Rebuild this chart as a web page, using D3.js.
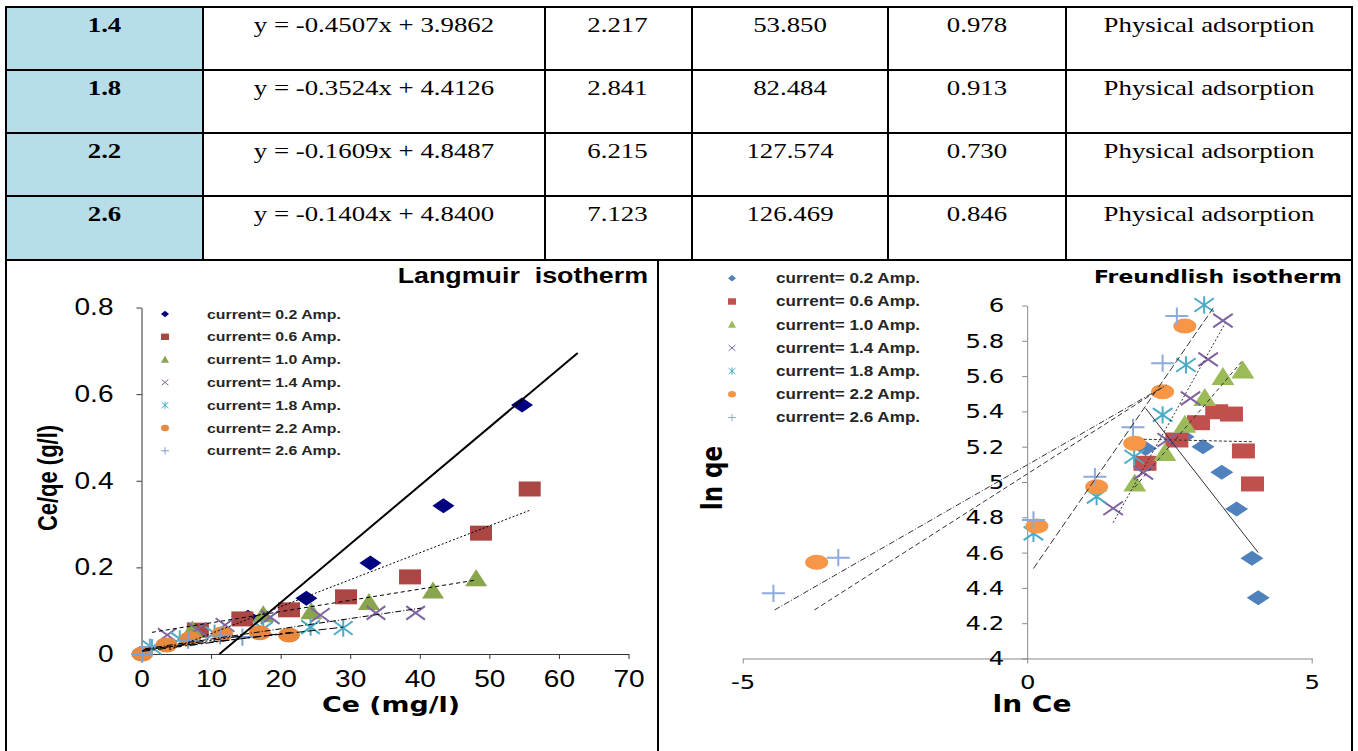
<!DOCTYPE html>
<html>
<head>
<meta charset="utf-8">
<script src="https://cdn.jsdelivr.net/npm/d3@7"></script>
<style>
  body { margin: 0; background: #fff; }
  svg { display: block; }
</style>
</head>
<body>
<svg id="fig" width="1358" height="751"></svg>
<script>
// ---------- Table: Freundlich fit results ----------
const tableCurrents  = ["1.4", "1.8", "2.2", "2.6"];
const tableEquations = ["y = -0.4507x + 3.9862", "y = -0.3524x + 4.4126", "y = -0.1609x + 4.8487", "y = -0.1404x + 4.8400"];
const tableN   = ["2.217", "2.841", "6.215", "7.123"];
const tableKf  = ["53.850", "82.484", "127.574", "126.469"];
const tableR2  = ["0.978", "0.913", "0.730", "0.846"];
const tableType = ["Physical adsorption", "Physical adsorption", "Physical adsorption", "Physical adsorption"];

// ---------- Legend ----------
const currents = ["0.2", "0.6", "1.0", "1.4", "1.8", "2.2", "2.6"];

// ---------- Langmuir isotherm: [Ce (mg/l), Ce/qe (g/l)] ----------
const lang02 = [[15.3, 0.085], [23.7, 0.129], [32.9, 0.21], [43.4, 0.342], [54.7, 0.575]];
const lang06 = [[8.1, 0.055], [14.5, 0.081], [21.2, 0.102], [29.4, 0.132], [38.6, 0.178], [48.8, 0.279], [55.8, 0.381]];
const lang10 = [[7.3, 0.055], [17.5, 0.09], [24.4, 0.097], [32.7, 0.118], [41.9, 0.145], [48.1, 0.173]];
const lang14 = [[3.7, 0.044], [8.0, 0.057], [12.0, 0.067], [18.5, 0.085], [25.7, 0.09], [33.7, 0.095], [39.4, 0.095]];
const lang18 = [[1.5, 0.015], [5.5, 0.035], [10.5, 0.048], [17.5, 0.058], [24.3, 0.062], [29.0, 0.06]];
const lang22 = [[0.1, 0.0], [3.6, 0.021], [7.0, 0.035], [11.6, 0.046], [17.0, 0.049], [21.2, 0.044]];
const lang26 = [[0.1, 0.0], [1.2, 0.016], [6.7, 0.032], [11.3, 0.042], [14.5, 0.039]];

// Linear trendline end points
const langTrend02 = [[11.2, 0.0], [62.7, 0.695]];
const langTrend06 = [[4.0, 0.01], [56.0, 0.333]];
const langTrend10 = [[1.5, 0.05], [47.8, 0.17]];
const langTrend14 = [[0.5, 0.012], [40.2, 0.106]];
const langTrend18 = [[0.3, 0.01], [29.0, 0.062]];
const langTrend22 = [[0.1, 0.006], [21.5, 0.05]];
const langTrend26 = [[0.1, 0.008], [14.5, 0.042]];

const langXTicks = [0, 10, 20, 30, 40, 50, 60, 70];
const langYTicks = [0, 0.2, 0.4, 0.6, 0.8];

// ---------- Freundlich isotherm: [ln Ce, ln qe] ----------
const fr02 = [[2.08, 5.19], [2.74, 5.257], [3.09, 5.2], [3.42, 5.055], [3.68, 4.847], [3.95, 4.568], [4.06, 4.344]];
const fr06 = [[2.07, 5.106], [2.63, 5.238], [3.01, 5.336], [3.33, 5.398], [3.59, 5.385], [3.8, 5.176], [3.96, 4.989]];
const fr10 = [[1.89, 4.99], [2.42, 5.163], [2.77, 5.323], [3.12, 5.474], [3.44, 5.593], [3.79, 5.63]];
const fr14 = [[1.51, 4.851], [2.04, 5.053], [2.46, 5.238], [2.87, 5.474], [3.18, 5.695], [3.44, 5.914]];
const fr18 = [[0.11, 4.709], [1.22, 4.917], [1.88, 5.143], [2.38, 5.38], [2.79, 5.663], [3.11, 6.003]];
const fr22 = [[-3.70, 4.545], [0.17, 4.751], [1.22, 4.973], [1.89, 5.219], [2.38, 5.512], [2.77, 5.884]];
const fr26 = [[-4.46, 4.369], [-3.32, 4.571], [0.11, 4.785], [1.19, 5.03], [1.86, 5.31], [2.38, 5.673], [2.63, 5.94]];

const frTrend02 = [[2.08, 5.418], [4.06, 4.60]];
const frTrend06 = [[2.05, 5.242], [3.97, 5.228]];
const frTrend10 = [[1.89, 4.97], [3.79, 5.69]];
const frTrend14 = [[1.51, 4.77], [3.48, 5.90]];
const frTrend18 = [[0.11, 4.51], [3.27, 5.986]];
const frTrend22 = [[-3.74, 4.275], [2.40, 5.54]];
const frTrend26 = [[-4.44, 4.275], [2.45, 5.55]];

const frXTicks = [-5, 0, 5];
const frYTicks = [4, 4.2, 4.4, 4.6, 4.8, 5, 5.2, 5.4, 5.6, 5.8, 6];

// ---------- drawing helpers ----------
const SX = 1.22;                    // horizontal stretch of the printed figure
const svg = d3.select("#fig");
const SANS = "'Liberation Sans', Arial, sans-serif";
const DEJA = "'DejaVu Sans', Verdana, sans-serif";
const SERIF = "'Liberation Serif', 'Times New Roman', serif";

function label(parent, x, y, str, o = {}) {
  return parent.append("text")
    .attr("x", x / SX).attr("y", y)
    .attr("transform", `scale(${SX},1)`)
    .attr("text-anchor", o.anchor || "start")
    .attr("font-family", o.family || SANS)
    .attr("font-size", o.size || 14)
    .attr("font-weight", o.weight || "normal")
    .attr("fill", o.fill || "#000")
    .style("white-space", "pre")
    .text(str);
}

function vlabel(parent, x, y, str, o = {}) {
  parent.append("g")
    .attr("transform", `translate(${x},${y}) scale(${SX},1) rotate(-90)`)
    .append("text")
    .attr("text-anchor", "middle")
    .attr("dy", "0.35em")
    .attr("font-family", o.family || SANS)
    .attr("font-size", o.size || 14)
    .attr("font-weight", o.weight || "normal")
    .attr("fill", "#000")
    .text(str);
}

// Unit marker shapes (half-size 1), scaled per use
const SHAPES = {
  diamond:  { d: "M0,-1L1,0L0,1L-1,0Z", fill: true },
  square:   { d: "M-1,-1H1V1H-1Z", fill: true },
  triangle: { d: "M0,-1.15L1,0.85L-1,0.85Z", fill: true },
  cross:    { d: "M-0.85,-0.9L0.85,0.9M-0.85,0.9L0.85,-0.9", fill: false },
  star:     { d: "M-0.85,-0.9L0.85,0.9M-0.85,0.9L0.85,-0.9M0,-1.15V1.15", fill: false },
  circle:   { d: "M-1,0A1,1 0 1,0 1,0A1,1 0 1,0 -1,0Z", fill: true },
  plus:     { d: "M-1,0H1M0,-1.15V1.15", fill: false }
};

function marker(parent, cx, cy, shape, color, hw, hh, sw) {
  const s = SHAPES[shape];
  parent.append("path")
    .attr("d", s.d)
    .attr("transform", `translate(${cx},${cy}) scale(${hw},${hh})`)
    .attr("vector-effect", "non-scaling-stroke")
    .attr("fill", s.fill ? color : "none")
    .attr("stroke", s.fill ? "none" : color)
    .attr("stroke-width", s.fill ? 0 : sw);
}

function styleAxis(g, color, family, size) {
  g.select(".domain").attr("stroke", color).attr("stroke-width", 1);
  g.selectAll(".tick line").attr("stroke", color).attr("stroke-width", 1);
  g.selectAll(".tick text")
    .attr("fill", "#000").attr("font-family", family).attr("font-size", size)
    .each(function () {
      const t = d3.select(this);
      const x = +t.attr("x") || 0;
      t.attr("x", x / SX).attr("transform", `scale(${SX},1)`);
    });
}

// ---------- Table ----------
const colEdges = [6, 203, 545, 692, 888, 1066, 1352];
const rowEdges = [7, 70, 133, 196, 260];
const tableCols = [tableCurrents, tableEquations, tableN, tableKf, tableR2, tableType];

const tbl = svg.append("g");
tableCurrents.forEach((_, r) => {
  tbl.append("rect")
    .attr("x", colEdges[0]).attr("y", rowEdges[r])
    .attr("width", colEdges[1] - colEdges[0]).attr("height", rowEdges[r + 1] - rowEdges[r])
    .attr("fill", "#b7dde8");
});
tableCols.forEach((col, c) => {
  const cx = (colEdges[c] + colEdges[c + 1]) / 2 + (c === 2 ? -1 : 0);
  col.forEach((v, r) => {
    label(tbl, cx, rowEdges[r] + 25.5, v, {
      anchor: "middle", family: SERIF, size: 22, weight: c === 0 ? "bold" : "normal"
    });
  });
});
rowEdges.forEach(y => {
  tbl.append("line").attr("x1", colEdges[0] - 1).attr("x2", colEdges[6] + 1)
    .attr("y1", y).attr("y2", y).attr("stroke", "#000").attr("stroke-width", 2);
});
colEdges.forEach(x => {
  tbl.append("line").attr("x1", x).attr("x2", x)
    .attr("y1", rowEdges[0]).attr("y2", rowEdges[4]).attr("stroke", "#000").attr("stroke-width", 2);
});
// frame around the two plots
[6, 658, 1352].forEach(x => {
  tbl.append("line").attr("x1", x).attr("x2", x).attr("y1", 260).attr("y2", 751)
    .attr("stroke", "#000").attr("stroke-width", 2);
});

// ---------- Langmuir plot ----------
const lg = svg.append("g");
const lx = d3.scaleLinear().domain([0, 70]).range([141.5, 628.5]);
const ly = d3.scaleLinear().domain([0, 0.8]).range([654, 307.5]);

const lxAxis = lg.append("g").attr("transform", `translate(0,${ly(0)})`)
  .call(d3.axisBottom(lx).tickValues(langXTicks).tickFormat(d => String(d)).tickSizeInner(5).tickSizeOuter(0).tickPadding(12));
styleAxis(lxAxis, "#333", SANS, 23);
const lyAxis = lg.append("g").attr("transform", `translate(${lx(0)},0)`)
  .call(d3.axisLeft(ly).tickValues(langYTicks).tickFormat(d => d === 0 ? "0" : d.toFixed(1)).tickSizeInner(5).tickSizeOuter(0).tickPadding(23));
styleAxis(lyAxis, "#333", SANS, 23);

const langSeries = [
  { pts: lang02, trend: langTrend02, shape: "diamond",  color: "#000080", dash: null,            tw: 2 },
  { pts: lang06, trend: langTrend06, shape: "square",   color: "#aa4643", dash: "2,2",           tw: 1 },
  { pts: lang10, trend: langTrend10, shape: "triangle", color: "#89a54e", dash: "4,3",           tw: 1 },
  { pts: lang14, trend: langTrend14, shape: "cross",    color: "#8064a2", dash: "6,2,1,2",       tw: 1 },
  { pts: lang18, trend: langTrend18, shape: "star",     color: "#4bacc6", dash: "8,3",           tw: 1 },
  { pts: lang22, trend: langTrend22, shape: "circle",   color: "#e8893e", dash: "8,3,2,3",       tw: 1 },
  { pts: lang26, trend: langTrend26, shape: "plus",     color: "#7f9fd1", dash: "8,2,2,2,2,2",   tw: 1 }
];

const lMarks = lg.append("g");
langSeries.forEach(s => {
  s.pts.forEach(p => marker(lMarks, lx(p[0]), ly(p[1]), s.shape, s.color, 11, s.shape === "triangle" ? 8.5 : 7.5, 2));
});
const lineGen = (xs, ys) => d3.line().x(d => xs(d[0])).y(d => ys(d[1]));
const lTrends = lg.append("g");
langSeries.forEach(s => {
  lTrends.append("path").datum(s.trend)
    .attr("d", lineGen(lx, ly))
    .attr("fill", "none").attr("stroke", "#000").attr("stroke-width", s.tw)
    .attr("stroke-dasharray", s.dash);
});

// legend
currents.forEach((c, i) => {
  const y = 314 + i * 22.8;
  const s = langSeries[i];
  marker(lg, 165, y, s.shape, s.color, 4, s.shape === "triangle" ? 3.6 : 3.2, 1);
  label(lg, 207, y + 4.7, `current= ${c} Amp.`, { size: 13, weight: "bold", fill: "#262626" });
});

label(lg, 648, 283, "Langmuir  isotherm", { anchor: "end", size: 22, weight: "bold" });
label(lg, 391, 712, "Ce (mg/l)", { anchor: "middle", family: DEJA, size: 22, weight: "bold" });
vlabel(lg, 48, 478, "Ce/qe (g/l)", { size: 22, weight: "bold" });

// ---------- Freundlich plot ----------
const fg = svg.append("g");
const fx = d3.scaleLinear().domain([-5, 5]).range([742.7, 1311.7]);
const fy = d3.scaleLinear().domain([4, 6]).range([658.5, 305.5]);

const fxAxis = fg.append("g").attr("transform", `translate(0,${fy(4)})`)
  .call(d3.axisBottom(fx).tickValues(frXTicks).tickFormat(d => String(d)).tickSizeInner(5).tickSizeOuter(0).tickPadding(11));
styleAxis(fxAxis, "#888", DEJA, 20);
const fyAxis = fg.append("g").attr("transform", `translate(${fx(0)},0)`)
  .call(d3.axisLeft(fy).tickValues(frYTicks).tickFormat(d => String(d)).tickSizeInner(5).tickSizeOuter(0).tickPadding(18));
styleAxis(fyAxis, "#888", DEJA, 20);

const frSeries = [
  { pts: fr02, trend: frTrend02, shape: "diamond",  color: "#4f81bd", dash: null },
  { pts: fr06, trend: frTrend06, shape: "square",   color: "#c0504d", dash: "3,2" },
  { pts: fr10, trend: frTrend10, shape: "triangle", color: "#9bbb59", dash: "4,3" },
  { pts: fr14, trend: frTrend14, shape: "cross",    color: "#8064a2", dash: "2,2" },
  { pts: fr18, trend: frTrend18, shape: "star",     color: "#4bacc6", dash: "7,3" },
  { pts: fr22, trend: frTrend22, shape: "circle",   color: "#f79646", dash: "5,3" },
  { pts: fr26, trend: frTrend26, shape: "plus",     color: "#8eaadb", dash: "6,2,1,2" }
];

const fMarks = fg.append("g");
frSeries.forEach(s => {
  s.pts.forEach(p => marker(fMarks, fx(p[0]), fy(p[1]), s.shape, s.color, 11.5, s.shape === "triangle" ? 9 : 7.5, 2));
});
const fTrends = fg.append("g");
frSeries.forEach(s => {
  fTrends.append("path").datum(s.trend)
    .attr("d", lineGen(fx, fy))
    .attr("fill", "none").attr("stroke", "#333").attr("stroke-width", 1)
    .attr("stroke-dasharray", s.dash);
});

currents.forEach((c, i) => {
  const y = 278.3 + i * 23.2;
  const s = frSeries[i];
  marker(fg, 732, y, s.shape, s.color, 4, s.shape === "triangle" ? 3.6 : 3.2, 1);
  label(fg, 776, y + 5, `current= ${c} Amp.`, { size: 14, weight: "bold", fill: "#262626" });
});

label(fg, 1342, 283, "Freundlish isotherm", { anchor: "end", family: DEJA, size: 18, weight: "bold" });
label(fg, 1032, 712, "ln Ce", { anchor: "middle", family: DEJA, size: 23, weight: "bold" });
vlabel(fg, 712, 478, "ln qe", { family: DEJA, size: 23, weight: "bold" });
</script>
</body>
</html>
